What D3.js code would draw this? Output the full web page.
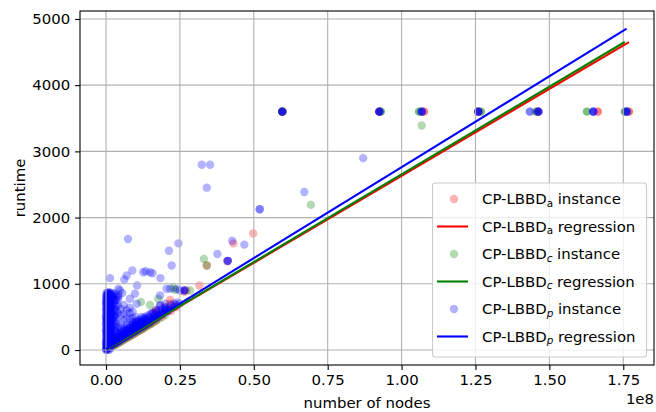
<!DOCTYPE html>
<html>
<head>
<meta charset="utf-8">
<script src="https://cdn.jsdelivr.net/npm/d3@7"></script>
<style>
  body { margin: 0; background: #fff; }
  svg { display: block; font-family: "DejaVu Sans", sans-serif; }
</style>
</head>
<body>
<svg id="chart" width="656" height="412"></svg>
<script>
// Solved instances per variant: [number of nodes (millions), runtime (s)]
const instancesA = [
  [0.2,15],[0.5,40],[1,60],[0.3,90],[1.5,70],[2,90],[0.8,150],[2.5,110],[3,130],[1.2,220],
  [4,160],[5,190],[0.5,300],[6,210],[7,230],[8,260],[9,280],[10,300],[11,330],[12,350],
  [13,380],[14,410],[15,440],[16,560],[16.9,600],[17.2,575],[18,520],[20,650],[21.65,700],
  [21.7,755],[23,660],[26.5,880],[27.2,900],[31.6,976],[34.1,1276],[41,1340],[43.1,1611],[49.8,1761],
  [2,55],[3,75],[4,100],[5,130],[6,150],[7,180],[8,205],[9,230],[10,255],[11,285],
  [12,310],[13,335],[14,365],[15,390],[16,420],[17,445],[19,500],[22,590],[24,650],[3,160],
  [6,260],[9,330],[12,420],[0.5,120],[0.8,400],[0.3,600],[1,800],[0.4,250],
  [59.64,3600],[59.64,3600],[92.46,3600],[92.46,3600],[107.6,3600],[107.6,3600],
  [125.95,3600],[125.95,3600],[146.25,3600],[146.25,3600],[166.4,3600],[166.4,3600],
  [176.94,3600],[176.94,3600]
];
const instancesC = [
  [0.3,20],[0.8,50],[1.5,60],[2,80],[0.4,120],[3,110],[4,140],[5,170],[1,250],[6,200],
  [7,230],[8,260],[9.1,375],[10,300],[11,320],[11.8,725],[13,370],[14.9,680],[15,430],[16,460],
  [17.7,775],[19,540],[21,600],[22.8,941],[23.3,910],[28.4,900],[33.1,1376],[34.1,1276],
  [2.5,65],[3.5,90],[4.5,115],[5.5,140],[6.5,170],[7.5,195],[8.5,220],[9.5,245],[10.5,275],
  [11.5,300],[12.5,325],[13.5,355],[14.5,380],[15.5,405],[17,450],[18,475],[20,530],[4,200],
  [7,300],[10,380],[0.6,180],[0.2,450],[1.1,700],[0.7,850],
  [69.3,2192],[106.8,3390],
  [59.64,3600],[59.64,3600],[93.0,3600],[93.0,3600],[105.9,3600],[105.9,3600],
  [126.86,3600],[126.86,3600],[145.47,3600],[145.47,3600],[162.7,3600],[162.7,3600],
  [175.5,3600],[175.5,3600]
];
const instancesP = [
  // small trees
  [0.1,10],[0.2,25],[0.3,40],[0.1,60],[0.5,80],[0.2,100],[0.8,120],[0.4,140],[0.1,160],[1.0,180],
  [0.6,200],[0.3,230],[1.2,250],[0.2,270],[0.7,300],[1.4,320],[0.4,340],[0.9,360],[0.1,390],[1.3,410],
  [0.5,430],[0.2,460],[1.0,480],[0.6,500],[1.6,520],[0.3,550],[0.8,570],[1.2,600],[0.2,620],[0.6,650],
  [1.5,670],[0.4,690],[0.9,720],[0.1,740],[1.8,760],[0.5,780],[1.1,800],[0.3,820],[2.2,840],[0.7,860],
  [1.4,870],[0.0,700],[0.0,500],[0.0,300],[0.0,120],[1.7,640],[1.9,450],[1.6,280],[0.9,90],[1.3,150],
  [0.0,0],[0.5,5],[1.1,2],[0.2,25],[0.8,28],[1.4,22],[0.1,50],[0.6,48],[1.2,55],[0.3,75],
  [0.9,78],[1.5,72],[0.0,100],[0.7,104],[1.3,98],[0.4,125],[1.0,122],[1.6,128],[0.1,150],[0.6,152],
  [1.2,147],[0.3,175],[0.9,178],[1.5,172],[0.0,200],[0.5,203],[1.1,198],[0.2,225],[0.8,228],[1.4,222],
  [0.1,250],[0.7,252],[1.3,247],[0.4,275],[1.0,278],[1.6,272],[0.0,300],[0.6,302],[1.2,297],[0.3,325],
  [0.9,328],[1.5,322],[0.1,350],[0.7,352],[1.3,347],[0.2,375],[0.8,378],[1.4,372],[0.0,400],[0.5,403],
  [1.1,398],[0.3,425],[0.9,428],[1.6,422],[0.1,450],[0.7,452],[1.3,447],[0.4,475],[1.0,478],[1.5,472],
  [0.0,500],[0.6,502],[1.2,497],[0.2,525],[0.8,528],[1.4,522],[0.1,550],[0.7,552],[1.3,547],[0.3,575],
  [0.9,578],[1.6,572],[0.0,600],[0.5,603],[1.1,598],[0.2,625],[0.8,628],[1.4,622],[0.1,650],[0.7,652],
  [1.3,647],[0.4,675],[1.0,678],[1.5,672],[0.0,700],[0.6,702],[1.2,697],[0.3,725],[0.9,728],[1.5,722],
  [0.1,750],[0.7,752],[1.3,747],[0.2,775],[0.8,778],[1.4,772],[0.0,800],[0.5,803],[1.1,798],[0.3,825],
  [0.9,828],[1.6,822],[0.1,850],[0.7,852],[1.3,847],[0.4,872],[1.0,865],
  [2.2,180],[2.8,230],[3.3,280],[2.0,330],[2.6,380],[3.2,430],[2.4,480],[3.0,530],[2.1,580],[2.7,620],
  [3.4,660],[2.3,700],[2.9,740],[2.0,780],[2.6,810],[1.9,200],[2.5,300],[3.1,350],[1.9,550],[2.4,420],
  [3.5,500],[2.2,860],[3.6,600],[1.8,350],[3.3,760],
  // medium trees
  [2,100],[2,250],[2,450],[2,650],[2,820],[3,120],[3,300],[3,520],[3,700],[4,150],
  [4,350],[4,560],[4,760],[5,170],[5,400],[5,620],[6,200],[6,450],[6,680],[7,220],
  [7,380],[7,600],[8,250],[8,480],[8,640],[9,280],[9,420],[9,580],[10,310],[10,500],
  [11,330],[11,450],[12,360],[12,500],[13,390],[13,470],[14,420],[3.0,850],[4.2,830],[5.5,860],
  [4.7,900],[4.2,800],[8.1,775],[9.8,850],[10.4,700],[18.3,675],[18.3,675],[20,600],[20,600],[20,700],
  [18.3,826],[21.7,925],[24,920],[25,900],[26.5,901],[26.5,901],[26.5,901],[15.5,560],[17,600],
  [2,75],[2,110],[2,150],[2.5,95],[2.5,160],[3,100],[3,140],[3,190],[3.5,115],[3.5,170],
  [4,130],[4,170],[4,220],[4.5,140],[4.5,200],[5,158],[5,195],[5,250],[5.5,170],[5.5,225],
  [6,185],[6,225],[6,280],[6.5,195],[6.5,250],[7,212],[7,250],[7,300],[7.5,225],[7.5,275],
  [8,240],[8,280],[8,330],[8.5,250],[8.5,300],[9,268],[9,305],[9,350],[9.5,280],[9.5,330],
  [10,295],[10,335],[10,380],[10.5,305],[10.5,355],[11,322],[11,360],[11,410],[11.5,335],[11.5,385],
  [12,350],[12,390],[12,440],[12.5,360],[13,378],[13,420],[13.5,390],[13.5,460],[14,405],[14,445],
  [14.5,415],[15,432],[15,480],[15.5,445],[16,460],[16,510],[17,488],[17.5,500],[18,515],[18.5,540],
  [19,545],[20,570],[21,600],[22,625],
  [4,260],[5,290],[6,320],[7,340],[8,370],[9,390],[10,420],[11,440],[12,470],[13,500],
  [14,520],[15,540],[16,560],[17,580],[18,600],[19,620],[20,640],[22,680],[23,700],[24,720],
  [4.5,240],[5.5,270],[6.5,300],[7.5,320],[8.5,350],[9.5,370],[10.5,400],[11.5,420],[12.5,440],[13.5,480],
  [14.5,500],[16.5,530],[18.5,570],[21,640],[23,650],[16.5,475],[17.5,520],[19.5,560],[21,590],[24,680],
  [25,705],
  [2.5,500],[3.5,400],[5,330],[6,550],[7,480],[3,600],[2.5,750],[4,680],[5,520],[8,560],
  [9,480],[10,430],[3.5,800],
  // larger trees
  [1.35,1086],[7.44,1677],[24.5,1611],[21.3,1500],[22.2,1276],[13.4,1191],[15.7,1161],[8.9,1201],
  [7.0,1126],[6.2,1066],[18.4,1086],[10.5,976],[20.5,926],[4.2,926],[12.6,1175],[14.9,1175],
  [32.4,2797],[35.2,2797],[34.1,2452],[67.1,2387],[52.0,2127],[52.0,2127],[87.0,2898],
  [42.7,1651],[46.8,1592],[37.7,1451],[41.2,1347],[41.2,1347],[41.2,1347],
  // time limit reached
  [59.64,3600],[59.64,3600],[59.64,3600],[59.64,3600],[92.46,3600],[92.46,3600],[92.46,3600],[92.46,3600],
  [106.8,3600],[106.8,3600],[106.8,3600],[106.8,3600],[125.95,3600],[125.95,3600],[125.95,3600],[125.95,3600],
  [143.4,3600],[143.4,3600],[146.25,3600],[146.25,3600],[146.25,3600],[146.25,3600],
  [164.85,3600],[164.85,3600],[164.85,3600],[164.85,3600],[176.15,3600],[176.15,3600],[176.15,3600],[176.15,3600]
];

// Least-squares fits: runtime = intercept + slope * nodes (millions)
const regressionIntercept = [5, 5, 15];
const regressionSlope = [26.25, 26.48, 27.47];

const variantSubscripts = ["a", "c", "p"];
const xTicks = [0, 25, 50, 75, 100, 125, 150, 175];
const xTickLabels = ["0.00", "0.25", "0.50", "0.75", "1.00", "1.25", "1.50", "1.75"];
const yTicks = [0, 1000, 2000, 3000, 4000, 5000];

const colors = ["#ff0000", "#008000", "#0000ff"];
const allInstances = [instancesA, instancesC, instancesP];

const svg = d3.select("#chart");
const plotLeft = 80, plotRight = 654, plotTop = 11, plotBottom = 365;
const x = d3.scaleLinear().domain([-8.8, 185.4]).range([plotLeft, plotRight]);
const y = d3.scaleLinear().domain([-226, 5120]).range([plotBottom, plotTop]);
const fontSize = 14.9;

svg.append("rect").attr("width", 656).attr("height", 412).attr("fill", "#fff");

// scatter of instances
allInstances.forEach((data, i) => {
  svg.append("g").selectAll("circle").data(data).join("circle")
    .attr("cx", d => x(d[0]))
    .attr("cy", d => y(d[1]))
    .attr("r", 4.2)
    .attr("fill", colors[i])
    .attr("fill-opacity", 0.3);
});

// grid lines
const grid = svg.append("g").attr("stroke", "#b0b0b0").attr("stroke-width", 1.1);
xTicks.forEach(t => grid.append("line")
  .attr("x1", x(t)).attr("x2", x(t)).attr("y1", plotTop).attr("y2", plotBottom));
yTicks.forEach(t => grid.append("line")
  .attr("x1", plotLeft).attr("x2", plotRight).attr("y1", y(t)).attr("y2", y(t)));

// regression lines over each variant's node range
allInstances.forEach((data, i) => {
  const ext = d3.extent(data, d => d[0]);
  const pts = ext.map(n => [n, regressionIntercept[i] + regressionSlope[i] * n]);
  svg.append("path")
    .attr("d", d3.line().x(d => x(d[0])).y(d => y(d[1]))(pts))
    .attr("fill", "none")
    .attr("stroke", colors[i])
    .attr("stroke-width", 2.1);
});

// axes
const xAxis = d3.axisBottom(x).tickValues(xTicks)
  .tickFormat((d, i) => xTickLabels[i]).tickSize(4.9).tickPadding(4.9);
const yAxis = d3.axisLeft(y).tickValues(yTicks)
  .tickFormat(d3.format("d")).tickSize(4.9).tickPadding(4.9);

const gx = svg.append("g").attr("transform", `translate(0,${plotBottom})`).call(xAxis);
const gy = svg.append("g").attr("transform", `translate(${plotLeft},0)`).call(yAxis);
[gx, gy].forEach(g => {
  g.select(".domain").remove();
  g.selectAll(".tick line").attr("stroke", "#000").attr("stroke-width", 1.1);
  g.selectAll(".tick text").attr("fill", "#000")
    .attr("font-size", fontSize).attr("font-family", "DejaVu Sans");
});

// frame
svg.append("rect")
  .attr("x", plotLeft).attr("y", plotTop)
  .attr("width", plotRight - plotLeft).attr("height", plotBottom - plotTop)
  .attr("fill", "none").attr("stroke", "#000").attr("stroke-width", 1.1);

// axis labels
svg.append("text").attr("x", (plotLeft + plotRight) / 2).attr("y", 408)
  .attr("text-anchor", "middle").attr("font-size", fontSize)
  .text("number of nodes");
svg.append("text")
  .attr("transform", `translate(25,${(plotTop + plotBottom) / 2}) rotate(-90)`)
  .attr("text-anchor", "middle").attr("font-size", fontSize)
  .text("runtime");
svg.append("text").attr("x", 654).attr("y", 404)
  .attr("text-anchor", "end").attr("font-size", fontSize)
  .text("1e8");

// legend
const lg = svg.append("g");
lg.append("rect")
  .attr("x", 432.5).attr("y", 183).attr("width", 214).attr("height", 174)
  .attr("rx", 3).attr("fill", "#fff").attr("fill-opacity", 0.8)
  .attr("stroke", "#cccccc").attr("stroke-width", 1.1);

const entries = [];
variantSubscripts.forEach((s, i) => {
  entries.push({ kind: "instance", sub: s, color: colors[i] });
  entries.push({ kind: "regression", sub: s, color: colors[i] });
});

entries.forEach((e, k) => {
  const cy = 199 + k * 27.5;
  if (e.kind === "instance") {
    lg.append("circle").attr("cx", 454).attr("cy", cy).attr("r", 4.2)
      .attr("fill", e.color).attr("fill-opacity", 0.3);
  } else {
    lg.append("line").attr("x1", 437).attr("x2", 468).attr("y1", cy).attr("y2", cy)
      .attr("stroke", e.color).attr("stroke-width", 2.1);
  }
  const t = lg.append("text").attr("x", 482).attr("y", cy + 5.3).attr("font-size", fontSize);
  t.append("tspan").text("CP-LBBD");
  t.append("tspan").attr("dy", 2.6).attr("font-size", 10.4)
    .attr("font-style", e.sub === "a" ? "normal" : "italic").text(e.sub);
  t.append("tspan").attr("dy", -2.6).text(" " + e.kind);
});
</script>
</body>
</html>
